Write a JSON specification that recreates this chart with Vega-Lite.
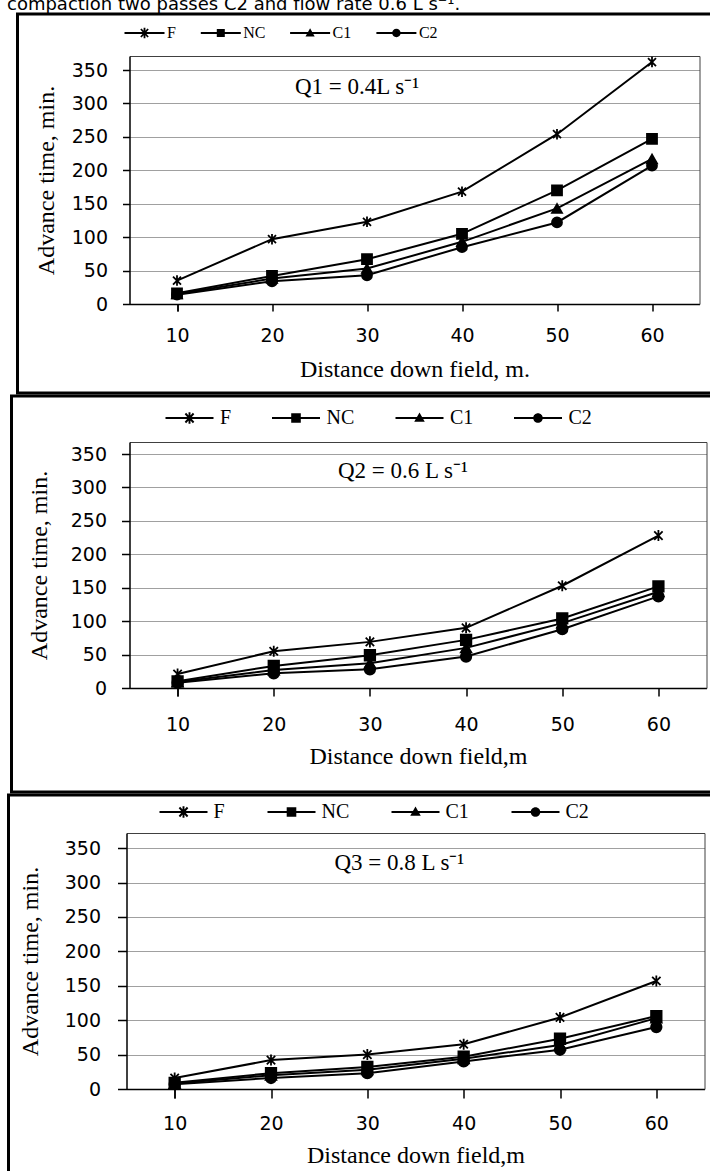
{
  "$schema": "https://vega.github.io/schema/vega-lite/v6.json",
  "padding": {"left": 6.5, "top": -5, "right": -20, "bottom": -9},
  "background": "white",
  "title": {"text": "compaction two passes C2 and flow rate 0.6 L s⁻¹.", "anchor": "start", "font": "DejaVu Sans", "fontSize": 18, "fontWeight": "normal", "color": "black", "offset": -2},
  "spacing": 3,
  "bounds": "flush",
  "center": true,
  "datasets": {
    "adv": [
      {"panel": "Q1", "series": "F", "d": 10, "t": 35}, {"panel": "Q1", "series": "F", "d": 20, "t": 97}, {"panel": "Q1", "series": "F", "d": 30, "t": 123}, {"panel": "Q1", "series": "F", "d": 40, "t": 168}, {"panel": "Q1", "series": "F", "d": 50, "t": 254}, {"panel": "Q1", "series": "F", "d": 60, "t": 362},
      {"panel": "Q1", "series": "NC", "d": 10, "t": 16}, {"panel": "Q1", "series": "NC", "d": 20, "t": 42}, {"panel": "Q1", "series": "NC", "d": 30, "t": 67}, {"panel": "Q1", "series": "NC", "d": 40, "t": 105}, {"panel": "Q1", "series": "NC", "d": 50, "t": 170}, {"panel": "Q1", "series": "NC", "d": 60, "t": 247},
      {"panel": "Q1", "series": "C1", "d": 10, "t": 15}, {"panel": "Q1", "series": "C1", "d": 20, "t": 38}, {"panel": "Q1", "series": "C1", "d": 30, "t": 53}, {"panel": "Q1", "series": "C1", "d": 40, "t": 93}, {"panel": "Q1", "series": "C1", "d": 50, "t": 143}, {"panel": "Q1", "series": "C1", "d": 60, "t": 217},
      {"panel": "Q1", "series": "C2", "d": 10, "t": 14}, {"panel": "Q1", "series": "C2", "d": 20, "t": 34}, {"panel": "Q1", "series": "C2", "d": 30, "t": 43}, {"panel": "Q1", "series": "C2", "d": 40, "t": 85}, {"panel": "Q1", "series": "C2", "d": 50, "t": 122}, {"panel": "Q1", "series": "C2", "d": 60, "t": 207},
      {"panel": "Q2", "series": "F", "d": 10, "t": 21}, {"panel": "Q2", "series": "F", "d": 20, "t": 55}, {"panel": "Q2", "series": "F", "d": 30, "t": 69}, {"panel": "Q2", "series": "F", "d": 40, "t": 90}, {"panel": "Q2", "series": "F", "d": 50, "t": 153}, {"panel": "Q2", "series": "F", "d": 60, "t": 228},
      {"panel": "Q2", "series": "NC", "d": 10, "t": 10}, {"panel": "Q2", "series": "NC", "d": 20, "t": 33}, {"panel": "Q2", "series": "NC", "d": 30, "t": 49}, {"panel": "Q2", "series": "NC", "d": 40, "t": 72}, {"panel": "Q2", "series": "NC", "d": 50, "t": 104}, {"panel": "Q2", "series": "NC", "d": 60, "t": 152},
      {"panel": "Q2", "series": "C1", "d": 10, "t": 9}, {"panel": "Q2", "series": "C1", "d": 20, "t": 27}, {"panel": "Q2", "series": "C1", "d": 30, "t": 37}, {"panel": "Q2", "series": "C1", "d": 40, "t": 60}, {"panel": "Q2", "series": "C1", "d": 50, "t": 97}, {"panel": "Q2", "series": "C1", "d": 60, "t": 144},
      {"panel": "Q2", "series": "C2", "d": 10, "t": 8}, {"panel": "Q2", "series": "C2", "d": 20, "t": 22}, {"panel": "Q2", "series": "C2", "d": 30, "t": 28}, {"panel": "Q2", "series": "C2", "d": 40, "t": 47}, {"panel": "Q2", "series": "C2", "d": 50, "t": 88}, {"panel": "Q2", "series": "C2", "d": 60, "t": 137},
      {"panel": "Q3", "series": "F", "d": 10, "t": 16}, {"panel": "Q3", "series": "F", "d": 20, "t": 42}, {"panel": "Q3", "series": "F", "d": 30, "t": 50}, {"panel": "Q3", "series": "F", "d": 40, "t": 65}, {"panel": "Q3", "series": "F", "d": 50, "t": 104}, {"panel": "Q3", "series": "F", "d": 60, "t": 157},
      {"panel": "Q3", "series": "NC", "d": 10, "t": 9}, {"panel": "Q3", "series": "NC", "d": 20, "t": 23}, {"panel": "Q3", "series": "NC", "d": 30, "t": 32}, {"panel": "Q3", "series": "NC", "d": 40, "t": 47}, {"panel": "Q3", "series": "NC", "d": 50, "t": 73}, {"panel": "Q3", "series": "NC", "d": 60, "t": 106},
      {"panel": "Q3", "series": "C1", "d": 10, "t": 8}, {"panel": "Q3", "series": "C1", "d": 20, "t": 20}, {"panel": "Q3", "series": "C1", "d": 30, "t": 28}, {"panel": "Q3", "series": "C1", "d": 40, "t": 44}, {"panel": "Q3", "series": "C1", "d": 50, "t": 64}, {"panel": "Q3", "series": "C1", "d": 60, "t": 103},
      {"panel": "Q3", "series": "C2", "d": 10, "t": 7}, {"panel": "Q3", "series": "C2", "d": 20, "t": 16}, {"panel": "Q3", "series": "C2", "d": 30, "t": 23}, {"panel": "Q3", "series": "C2", "d": 40, "t": 40}, {"panel": "Q3", "series": "C2", "d": 50, "t": 57}, {"panel": "Q3", "series": "C2", "d": 60, "t": 90}
    ],
    "notes": [
      {"panel": "Q1", "d": 30, "t": 325, "label": "Q1 = 0.4L s⁻¹"},
      {"panel": "Q2", "d": 30, "t": 324, "label": "Q2 = 0.6 L s⁻¹"},
      {"panel": "Q3", "d": 30, "t": 328, "label": "Q3 = 0.8 L s⁻¹"}
    ]
  },
  "config": {
    "view": {"stroke": "black", "strokeWidth": 3},
    "axis": {
      "labelFont": "DejaVu Sans", "labelFontSize": 19, "labelColor": "black",
      "titleFont": "Liberation Serif", "titleFontSize": 24, "titleFontWeight": "normal", "titleColor": "black",
      "domainColor": "black", "domainWidth": 1.5, "tickColor": "black", "tickWidth": 1.5,
      "gridColor": "#a0a0a0", "gridWidth": 1.2
    },
    "axisX": {"labelAngle": 0, "grid": false, "tickBand": "extent"},
    "legend": {"labelFont": "Liberation Serif", "labelColor": "black", "title": null, "gridAlign": "none"}
  },
  "vconcat": [
    {
      "width": 702, "height": 379,
      "layer": [
        {
          "data": {"name": "adv"},
          "transform": [{"filter": "datum.panel == 'Q1'"}],
          "mark": {"type": "line", "color": "black", "strokeWidth": 2},
          "encoding": {
            "x": {"field": "d", "type": "ordinal", "scale": {"range": [112, 682], "paddingInner": 0, "paddingOuter": 0},
                  "axis": {"orient": "bottom", "offset": -89, "title": "Distance down field, m.", "tickSize": 7, "labelPadding": 15, "titlePadding": 12}},
            "y": {"field": "t", "type": "quantitative", "scale": {"domain": [0, 371], "range": [290, 42], "nice": false},
                  "axis": {"orient": "left", "offset": -112, "values": [0, 50, 100, 150, 200, 250, 300, 350], "grid": true, "title": "Advance time, min.", "tickSize": 7, "labelPadding": 15, "titlePadding": 13}},
            "detail": {"field": "series"}
          }
        },
        {
          "data": {"name": "adv"},
          "transform": [{"filter": "datum.panel == 'Q1'"}],
          "mark": {"type": "point", "filled": true, "color": "black", "stroke": "black", "strokeWidth": 1.8, "size": 100, "opacity": 1},
          "encoding": {
            "x": {"field": "d", "type": "ordinal", "axis": {"orient": "top", "offset": -42, "labels": false, "ticks": false, "title": null, "grid": false, "domainColor": "#404040", "domainWidth": 1}},
            "y": {"field": "t", "type": "quantitative", "axis": {"orient": "right", "offset": -20, "labels": false, "ticks": false, "title": null, "grid": false, "domainColor": "#404040", "domainWidth": 1}},
            "shape": {"field": "series", "type": "nominal", "legend": null,
                      "scale": {"domain": ["F", "NC", "C1", "C2"], "range": ["M-0.8,-0.8L0.8,0.8M-0.8,0.8L0.8,-0.8M0,-1.05V1.05", "square", "triangle-up", "circle"]}}
          }
        },
        {
          "data": {"name": "adv"},
          "transform": [{"filter": "datum.t < 0"}],
          "mark": {"type": "point", "filled": true, "color": "black", "opacity": 1},
          "encoding": {
            "shape": {"field": "series", "type": "nominal",
                      "scale": {"domain": ["F", "NC", "C1", "C2"], "range": [
                        "M-1,-0.05H1V0.05H-1ZM-0.045,-0.26H0.045V0.26H-0.045ZM-0.147,-0.23L0.213,0.17L0.147,0.23L-0.213,-0.17ZM-0.213,0.17L0.147,-0.23L0.213,-0.17L-0.147,0.23Z",
                        "M-1,-0.05H1V0.05H-1ZM-0.2,-0.2H0.2V0.2H-0.2Z",
                        "M-1,-0.05H1V0.05H-1ZM0,-0.24L0.23,0.17H-0.23Z",
                        "M-1,-0.05H1V0.05H-1ZM0.21,0A0.21,0.21,0,1,1,-0.21,0A0.21,0.21,0,1,1,0.21,0Z"]},
                      "legend": {"orient": "none", "legendX": 107, "legendY": -1, "direction": "horizontal", "symbolSize": 1600, "labelFontSize": 16, "labelOffset": 2.5, "columnPadding": 24.3, "padding": 0, "symbolStrokeWidth": 0, "symbolFillColor": "black"}}
          }
        },
        {
          "data": {"name": "notes"},
          "transform": [{"filter": "datum.panel == 'Q1'"}],
          "mark": {"type": "text", "font": "Liberation Serif", "fontSize": 23, "color": "black", "align": "center", "baseline": "middle", "dx": -10},
          "encoding": {
            "x": {"field": "d", "type": "ordinal", "axis": null},
            "y": {"field": "t", "type": "quantitative", "axis": null},
            "text": {"field": "label"}
          }
        }
      ],
      "resolve": {"scale": {"shape": "independent"}, "axis": {"x": "independent", "y": "independent"}}
    },
    {
      "width": 714, "height": 396,
      "layer": [
        {
          "data": {"name": "adv"},
          "transform": [{"filter": "datum.panel == 'Q2'"}],
          "mark": {"type": "line", "color": "black", "strokeWidth": 2},
          "encoding": {
            "x": {"field": "d", "type": "ordinal", "scale": {"range": [118, 695], "paddingInner": 0, "paddingOuter": 0},
                  "axis": {"orient": "bottom", "offset": -104, "title": "Distance down field,m", "tickSize": 8, "labelPadding": 19, "titlePadding": 10}},
            "y": {"field": "t", "type": "quantitative", "scale": {"domain": [0, 368], "range": [292, 46], "nice": false},
                  "axis": {"orient": "left", "offset": -118, "values": [0, 50, 100, 150, 200, 250, 300, 350], "grid": true, "title": "Advance time, min.", "tickSize": 8, "labelPadding": 15, "titlePadding": 19}},
            "detail": {"field": "series"}
          }
        },
        {
          "data": {"name": "adv"},
          "transform": [{"filter": "datum.panel == 'Q2'"}],
          "mark": {"type": "point", "filled": true, "color": "black", "stroke": "black", "strokeWidth": 1.8, "size": 110, "opacity": 1},
          "encoding": {
            "x": {"field": "d", "type": "ordinal", "axis": {"orient": "top", "offset": -46, "labels": false, "ticks": false, "title": null, "grid": false, "domainColor": "#404040", "domainWidth": 1}},
            "y": {"field": "t", "type": "quantitative", "axis": {"orient": "right", "offset": -19, "labels": false, "ticks": false, "title": null, "grid": false, "domainColor": "#404040", "domainWidth": 1}},
            "shape": {"field": "series", "type": "nominal", "legend": null,
                      "scale": {"domain": ["F", "NC", "C1", "C2"], "range": ["M-0.8,-0.8L0.8,0.8M-0.8,0.8L0.8,-0.8M0,-1.05V1.05", "square", "triangle-up", "circle"]}}
          }
        },
        {
          "data": {"name": "adv"},
          "transform": [{"filter": "datum.t < 0"}],
          "mark": {"type": "point", "filled": true, "color": "black", "opacity": 1},
          "encoding": {
            "shape": {"field": "series", "type": "nominal",
                      "scale": {"domain": ["F", "NC", "C1", "C2"], "range": [
                        "M-1,-0.045H1V0.045H-1ZM-0.04,-0.24H0.04V0.24H-0.04ZM-0.14,-0.22L0.2,0.16L0.14,0.22L-0.2,-0.16ZM-0.2,0.16L0.14,-0.22L0.2,-0.16L-0.14,0.22Z",
                        "M-1,-0.045H1V0.045H-1ZM-0.2,-0.2H0.2V0.2H-0.2Z",
                        "M-1,-0.045H1V0.045H-1ZM0,-0.23L0.22,0.16H-0.22Z",
                        "M-1,-0.045H1V0.045H-1ZM0.2,0A0.2,0.2,0,1,1,-0.2,0A0.2,0.2,0,1,1,0.2,0Z"]},
                      "legend": {"orient": "none", "legendX": 154, "legendY": -2, "direction": "horizontal", "symbolSize": 2304, "labelFontSize": 20, "labelOffset": 6.5, "columnPadding": 40.5, "padding": 0, "symbolStrokeWidth": 0, "symbolFillColor": "black"}}
          }
        },
        {
          "data": {"name": "notes"},
          "transform": [{"filter": "datum.panel == 'Q2'"}],
          "mark": {"type": "text", "font": "Liberation Serif", "fontSize": 23, "color": "black", "align": "center", "baseline": "middle", "dx": 33},
          "encoding": {
            "x": {"field": "d", "type": "ordinal", "axis": null},
            "y": {"field": "t", "type": "quantitative", "axis": null},
            "text": {"field": "label"}
          }
        }
      ],
      "resolve": {"scale": {"shape": "independent"}, "axis": {"x": "independent", "y": "independent"}}
    },
    {
      "width": 720, "height": 383,
      "layer": [
        {
          "data": {"name": "adv"},
          "transform": [{"filter": "datum.panel == 'Q3'"}],
          "mark": {"type": "line", "color": "black", "strokeWidth": 2},
          "encoding": {
            "x": {"field": "d", "type": "ordinal", "scale": {"range": [118, 696], "paddingInner": 0, "paddingOuter": 0},
                  "axis": {"orient": "bottom", "offset": -89, "title": "Distance down field,m", "tickSize": 9, "labelPadding": 16, "titlePadding": 10}},
            "y": {"field": "t", "type": "quantitative", "scale": {"domain": [0, 372], "range": [294, 38], "nice": false},
                  "axis": {"orient": "left", "offset": -118, "values": [0, 50, 100, 150, 200, 250, 300, 350], "grid": true, "title": "Advance time, min.", "tickSize": 9, "labelPadding": 17, "titlePadding": 22}},
            "detail": {"field": "series"}
          }
        },
        {
          "data": {"name": "adv"},
          "transform": [{"filter": "datum.panel == 'Q3'"}],
          "mark": {"type": "point", "filled": true, "color": "black", "stroke": "black", "strokeWidth": 1.8, "size": 110, "opacity": 1},
          "encoding": {
            "x": {"field": "d", "type": "ordinal", "axis": {"orient": "top", "offset": -38, "labels": false, "ticks": false, "title": null, "grid": false, "domainColor": "#404040", "domainWidth": 1}},
            "y": {"field": "t", "type": "quantitative", "axis": {"orient": "right", "offset": -24, "labels": false, "ticks": false, "title": null, "grid": false, "domainColor": "#404040", "domainWidth": 1}},
            "shape": {"field": "series", "type": "nominal", "legend": null,
                      "scale": {"domain": ["F", "NC", "C1", "C2"], "range": ["M-0.8,-0.8L0.8,0.8M-0.8,0.8L0.8,-0.8M0,-1.05V1.05", "square", "triangle-up", "circle"]}}
          }
        },
        {
          "data": {"name": "adv"},
          "transform": [{"filter": "datum.t < 0"}],
          "mark": {"type": "point", "filled": true, "color": "black", "opacity": 1},
          "encoding": {
            "shape": {"field": "series", "type": "nominal",
                      "scale": {"domain": ["F", "NC", "C1", "C2"], "range": [
                        "M-1,-0.045H1V0.045H-1ZM-0.04,-0.24H0.04V0.24H-0.04ZM-0.14,-0.22L0.2,0.16L0.14,0.22L-0.2,-0.16ZM-0.2,0.16L0.14,-0.22L0.2,-0.16L-0.14,0.22Z",
                        "M-1,-0.045H1V0.045H-1ZM-0.2,-0.2H0.2V0.2H-0.2Z",
                        "M-1,-0.045H1V0.045H-1ZM0,-0.23L0.22,0.16H-0.22Z",
                        "M-1,-0.045H1V0.045H-1ZM0.2,0A0.2,0.2,0,1,1,-0.2,0A0.2,0.2,0,1,1,0.2,0Z"]},
                      "legend": {"orient": "none", "legendX": 151, "legendY": -7, "direction": "horizontal", "symbolSize": 2304, "labelFontSize": 20, "labelOffset": 6, "columnPadding": 42, "padding": 0, "symbolStrokeWidth": 0, "symbolFillColor": "black"}}
          }
        },
        {
          "data": {"name": "notes"},
          "transform": [{"filter": "datum.panel == 'Q3'"}],
          "mark": {"type": "text", "font": "Liberation Serif", "fontSize": 23, "color": "black", "align": "center", "baseline": "middle", "dx": 32},
          "encoding": {
            "x": {"field": "d", "type": "ordinal", "axis": null},
            "y": {"field": "t", "type": "quantitative", "axis": null},
            "text": {"field": "label"}
          }
        }
      ],
      "resolve": {"scale": {"shape": "independent"}, "axis": {"x": "independent", "y": "independent"}}
    }
  ]
}
